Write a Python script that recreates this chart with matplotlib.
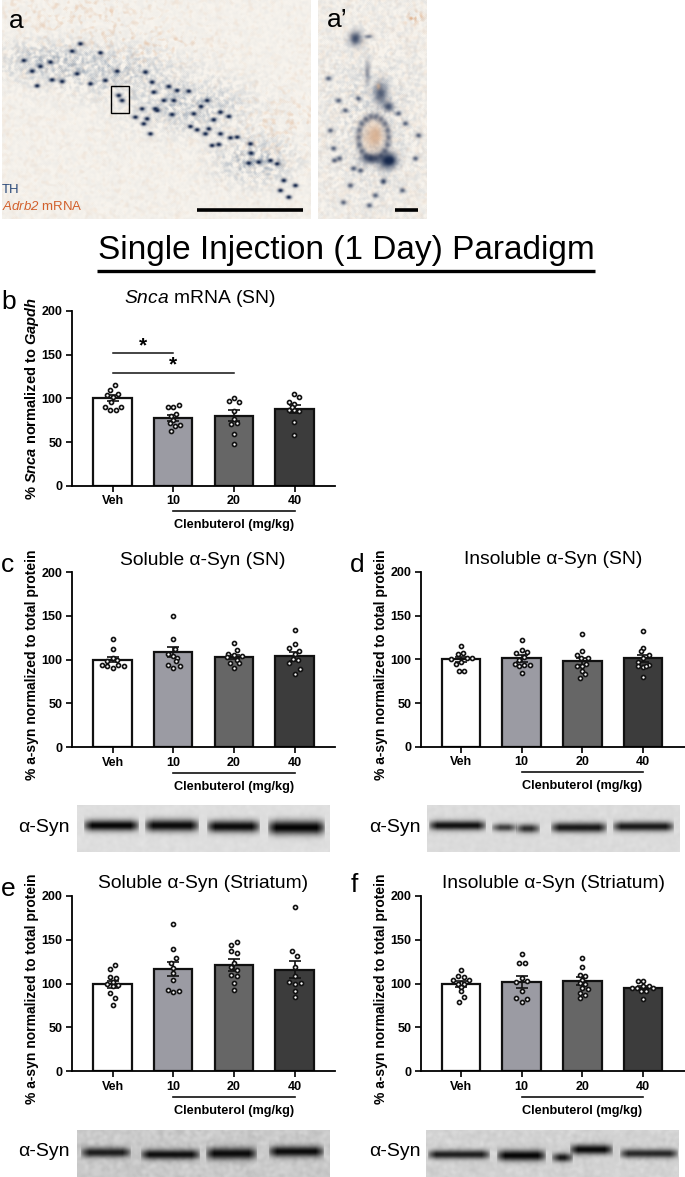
import numpy as np
import matplotlib
matplotlib.use('Agg')
import matplotlib.pyplot as plt
from matplotlib.patches import Rectangle

plt.rcParams['font.family'] = ['Liberation Sans', 'DejaVu Sans']
plt.rcParams['mathtext.fontset'] = 'custom'
plt.rcParams['mathtext.rm'] = 'Liberation Sans'
plt.rcParams['mathtext.it'] = 'Liberation Sans:italic'
plt.rcParams['mathtext.cal'] = 'Liberation Sans:italic'
plt.rcParams['mathtext.bf'] = 'Liberation Sans:bold'
plt.rcParams['mathtext.bfit'] = 'Liberation Sans:italic:bold'
plt.rcParams['mathtext.default'] = 'regular'

W, H = 685, 1177

groups = ['Veh', '10', '20', '40']
bar_colors = ['#ffffff', '#9b9ba3', '#666666', '#3c3c3c']
y_ticks = [0, 50, 100, 150, 200]

# values per group, dx = sideways spread (182 = one group)
b_mean = [100, 78, 80, 88]
b_sem = [3.5, 3.5, 6.5, 4.5]
b_vals = [[115, 110, 105, 104, 101, 96, 90, 90, 87, 87],
          [90, 90, 92, 82, 80, 75, 72, 70, 68, 63],
          [97, 100, 96, 86, 76, 71, 72, 59, 48],
          [105, 96, 101, 94, 87, 87, 86, 73, 58, 90]]
b_dx = [[8, -8, 17, -16, 2, -4, -22, 24, -8, 10],
        [-15, 0, 16, 7, -8, 0, -10, 20, 5, -8],
        [-16, 0, 15, 0, 0, -9, 8, 0, 0],
        [-2, -18, 14, -2, -18, -2, 14, -2, -2, -9]]

c_mean = [100, 109, 103, 104]
c_sem = [3.2, 5.5, 2.7, 5]
c_vals = [[123, 112, 102, 99, 100, 94, 93, 93, 94, 90],
          [150, 124, 112, 106, 104, 102, 94, 91, 93, 98],
          [119, 111, 106, 105, 103, 104, 100, 96, 96, 91],
          [134, 118, 113, 110, 107, 101, 100, 96, 89, 84]]
c_dx = [[0, 0, 0, -16, 14, -30, -16, 34, 17, 0],
        [0, 0, 6, -17, 0, 10, -17, 0, 20, 8],
        [0, 8, -17, 0, -22, 24, 10, -12, 16, 0],
        [0, 0, -16, 14, 0, -6, 11, -18, 16, 0]]

d_mean = [100, 101, 98, 101]
d_sem = [2.8, 3.5, 4, 4]
d_vals = [[115, 107, 106, 100, 101, 101, 97, 95, 87, 87],
          [122, 111, 107, 108, 103, 99, 95, 93, 93, 92, 84],
          [129, 109, 105, 102, 101, 95, 92, 92, 87, 83, 79],
          [132, 113, 110, 105, 102, 97, 93, 92, 91, 92, 80]]
d_dx = [[0, 7, -9, -29, 32, 17, 0, -16, -7, 9],
        [0, 0, -16, 16, 6, -7, -21, 24, 7, -9, 0],
        [0, 0, -16, 17, -3, 12, -16, 0, 0, 9, -8],
        [0, 0, -7, 17, 0, -15, 17, -15, 0, 10, 0]]

e_mean = [99, 117, 121, 116]
e_sem = [4, 8, 6.5, 10]
e_vals = [[121, 117, 108, 106, 102, 100, 98, 97, 89, 84, 76],
          [168, 139, 129, 124, 118, 112, 104, 93, 92, 90],
          [148, 144, 137, 135, 123, 119, 116, 110, 109, 101, 93],
          [188, 137, 132, 119, 109, 102, 100, 101, 92, 85]]
e_dx = [[8, -8, -8, 10, 0, -16, 17, 0, -8, 8, 0],
        [0, 0, 8, -8, 0, 0, 0, -17, 18, 0],
        [8, -8, -8, 8, 0, -8, 8, -8, 8, 0, 0],
        [0, -9, 8, 0, 0, -18, 0, 18, 0, 0]]

f_mean = [99, 102, 103, 95]
f_sem = [3.5, 7, 5, 2.5]
f_vals = [[116, 109, 108, 104, 104, 101, 99, 99, 96, 91, 85, 79],
          [134, 123, 123, 106, 103, 102, 92, 84, 82, 79],
          [129, 119, 110, 109, 104, 101, 100, 95, 94, 89, 87, 83],
          [103, 103, 95, 95, 97, 97, 95, 92, 92, 82]]
f_dx = [[0, -9, 9, -23, 24, 0, -9, 9, 0, 0, 9, -7],
        [0, -8, 9, 0, 16, -16, 0, -16, 16, 0],
        [0, 0, -8, 9, 0, -8, 9, 0, 17, -8, 7, -8],
        [-15, 0, -33, -17, 0, 17, 30, -5, 8, 0]]

# blot bands: left, right, darkness, centre y, half height, in px from the blot corner
c_bands = [(6, 62, .97, 20, 5.5), (67, 122, .95, 20, 6), (129, 183, .95, 21, 6), (190, 248, .98, 22, 7)]
d_bands = [(1, 59, .92, 20, 4.8), (64, 90, .7, 22, 4), (88, 113, .78, 23, 4.5), (123, 180, .88, 22, 5),
           (185, 247, .88, 21, 4.8)]
e_bands = [(3, 54, .85, 22, 5), (63, 123, .92, 24, 5), (128, 180, .94, 23, 6), (191, 247, .94, 21, 5.5)]
f_bands = [(1, 64, .85, 24, 4.5), (70, 120, .97, 25, 5.5), (125, 147, .88, 27, 4.5), (143, 187, .95, 19, 5),
           (193, 252, .8, 23, 4.5)]

# TH cells in panel a, image px * 3
cells_x = [70, 95, 110, 120, 150, 155, 185, 215, 240, 230, 270, 300, 315, 350, 355, 365, 405, 425, 435, 440, 430,
           455, 460, 465, 470, 505, 520, 515, 530, 565, 580, 570, 590, 602, 620, 625, 615, 640, 660, 685, 660, 635,
           655, 690, 710, 750, 752, 745, 775, 810, 830, 850, 885, 840, 865, 450, 490]
cells_y = [180, 212, 256, 198, 185, 238, 243, 152, 130, 220, 250, 157, 240, 212, 285, 300, 350, 325, 215, 355, 370,
           245, 275, 325, 330, 258, 300, 342, 270, 272, 340, 378, 388, 318, 300, 385, 400, 358, 335, 348, 400, 435,
           432, 412, 410, 430, 458, 488, 485, 480, 490, 540, 555, 570, 590, 400, 300]

# soma and process of the neuron in a' (x, y, sx, sy, strength)
neuron = [(355, 38, 6, 7, .8), (368, 36, 4, 2, .5), (367, 72, 3, 12, .4), (380, 93, 7, 11, .7), (388, 106, 5, 5, .75),
          (370, 158, 9, 5, .75), (387, 160, 9, 8, 1.0), (390, 160, 4, 4, 1.0), (383, 181, 3, 3, .8)]
specks_x = [328, 330, 333, 334, 339, 345, 353, 360, 415, 405, 398, 358, 343, 369, 350, 402, 418, 375, 338]
specks_y = [78, 130, 148, 160, 158, 110, 168, 170, 158, 123, 113, 98, 202, 205, 185, 190, 135, 195, 100]


def px_axes(fig, left, right, top, bottom):
    return fig.add_axes([left / W, 1 - bottom / H, (right - left) / W, (bottom - top) / H])


def blobs(xx, yy, items):
    out = np.ones_like(xx)
    for x, y, sx, sy, s in items:
        out = out * (1 - s * np.exp(-((xx - x) / sx) ** 2 - ((yy - y) / sy) ** 2))
    return 1 - out


def grain(xx, yy, size, seed):
    # photo grain from a sine hash, smoothed a few times
    g = np.sin(xx * 12.9898 + yy * 78.233 + seed) * 43758.5453
    g = g - np.floor(g)
    for _ in range(size):
        g = (g + np.roll(g, 1, 0) + np.roll(g, -1, 0) + np.roll(g, 1, 1) + np.roll(g, -1, 1)) / 5
    return (g - g.min()) / (g.max() - g.min())


def micro(ax_, left, right, top, bottom, items, tint, warm, base=.06):
    yy, xx = np.mgrid[top:bottom, left:right].astype(float)
    img = np.ones(xx.shape + (3,)) * np.array([.97, .955, .93])
    n1 = grain(xx, yy, 3, 1.0)
    n2 = grain(xx, yy, 4, 7.0)
    a = (blobs(xx, yy, tint) + base) * np.clip((n1 - .3) * 2.6, 0, 1.3)
    a = np.clip(a, 0, 1)[..., None]
    img = img * (1 - a) + np.array([.55, .61, .68]) * a
    w = (blobs(xx, yy, warm) + .1) * np.clip((n2 - .45) * 3.5, 0, 1.3)
    w = np.clip(w, 0, 1)[..., None]
    img = img * (1 - w) + np.array([.87, .68, .53]) * w
    c = blobs(xx, yy, items)[..., None]
    img = img * (1 - c) + np.array([.09, .16, .3]) * c
    ax_.imshow(np.clip(img, 0, 1), extent=[left, right, bottom, top], aspect='auto', zorder=1, interpolation='bilinear')


def blot(ax_, left, top, width, height, bands, bg, mottle):
    yy, xx = np.mgrid[0:height, 0:width].astype(float)
    img = bg + mottle * (grain(xx, yy, 6, left + top) - .5)
    for x0, x1, dark, yc, hh in bands:
        along = np.clip((xx - x0) / 9, 0, 1) * np.clip((x1 - xx) / 9, 0, 1)
        img = img * (1 - dark * np.sqrt(along) * np.exp(-((yy - yc) / hh) ** 2))
    ax_.imshow(img, cmap='gray', vmin=0, vmax=1, extent=[left, left + width, top + height, top], aspect='auto',
               zorder=1, interpolation='bilinear')


def panel(fig, left, right, top, bottom, x_first, step, mean, sem, vals, dx, title, ylabel, title_x, label_shift,
          label_size=10):
    ax = px_axes(fig, left, right, top, bottom)
    ax.patch.set_alpha(0)
    x = np.arange(4)
    ax.bar(x, mean, width=.635, color=bar_colors, edgecolor='#111111', linewidth=1.6, zorder=2)
    for i in x:
        ax.errorbar(i, mean[i], yerr=sem[i], color='#111111', elinewidth=1.2, capsize=4.5, capthick=1.2, zorder=3)
        ax.plot(i + np.array(dx[i]) / 182, vals[i], 'o', mfc='white', mec='#111111', mew=1.2, ms=2.9, zorder=4,
                clip_on=False)
    ax.set_xlim((left - x_first) / step, (right - x_first) / step)
    ax.set_ylim(0, 200)
    ax.set_xticks(x)
    ax.set_xticklabels(groups, fontsize=9, fontweight='bold')
    ax.set_yticks(y_ticks)
    ax.tick_params(axis='y', labelsize=9, width=1.2, length=4, pad=3)
    ax.tick_params(axis='x', width=1.2, length=4, pad=3)
    for t in ax.get_yticklabels():
        t.set_fontweight('bold')
    for s in ['top', 'right']:
        ax.spines[s].set_visible(False)
    for s in ['left', 'bottom']:
        ax.spines[s].set_linewidth(1.3)
    ax.plot([1, 3], [-29.5, -29.5], color='#111111', lw=1.2, clip_on=False)
    ax.text(2, -45.5, 'Clenbuterol (mg/kg)', ha='center', va='center', fontsize=9.2, fontweight='bold')
    ax.text((title_x - left) / (right - left), 1.0 + 12 / (bottom - top), title, transform=ax.transAxes,
            ha='center', va='center', fontsize=13.9)
    ax.text(-40 / (right - left), 0.5 - label_shift / (bottom - top), ylabel, transform=ax.transAxes, rotation=90,
            ha='center', va='center', fontsize=label_size, fontweight='bold', clip_on=False)
    return ax


fig = plt.figure(figsize=(W / 100, H / 100), dpi=100, facecolor='white')

bg = fig.add_axes([0, 0, 1, 1])
bg.set_xlim(0, W)
bg.set_ylim(H, 0)
bg.axis('off')

cells = [(x / 3, y / 3, 2.8, 2.1, 1.0) for x, y in zip(cells_x, cells_y)]
band = [(40, 60, 50, 18, .4), (110, 70, 60, 22, .45), (190, 105, 55, 25, .45), (255, 160, 35, 22, .55)]
warm = [(80, 15, 70, 25, .3), (160, 45, 50, 15, .3), (280, 120, 40, 30, .25)]
micro(bg, 2, 311, 0, 219, cells, band, warm)

specks = [(x, y, 3, 2.5, .65) for x, y in zip(specks_x, specks_y)]
# soma outline as a ring of soft spots
angles = np.radians(np.arange(0, 360, 20))
ring = [(373 + 15 * np.cos(t), 137 + 21 * np.sin(t), 3.2, 3.6, .55) for t in angles]
micro(bg, 318, 427, 0, 219, neuron + ring + specks, [(370, 120, 40, 70, .2)], [(415, 18, 9, 6, .8)], base=.12)
# tan stain sits on top of the soma
yy2, xx2 = np.mgrid[0:219, 318:427].astype(float)
w2 = blobs(xx2, yy2, [(373, 136, 10, 14, .7), (376, 134, 4, 7, .45), (378, 86, 2, 3, .6)])
bg.imshow(np.dstack([np.full(xx2.shape, .84), np.full(xx2.shape, .66), np.full(xx2.shape, .52), w2]),
          extent=[318, 427, 219, 0], aspect='auto', zorder=2)

bg.set_xlim(0, W)
bg.set_ylim(H, 0)
bg.add_patch(Rectangle((111.5, 86), 17.5, 26.5, fill=False, ec='black', lw=1, zorder=3))
bg.plot([197, 303], [209.5, 209.5], color='black', lw=2.6, solid_capstyle='butt', zorder=3)
bg.plot([395, 418], [210, 210], color='black', lw=2.6, solid_capstyle='butt', zorder=3)
bg.text(9, 21, 'a', fontsize=19, ha='left', va='center', zorder=3)
bg.text(327, 20, 'a’', fontsize=19, ha='left', va='center', zorder=3)
bg.text(2, 190, 'TH', fontsize=9.5, color='#2b4a7a', ha='left', va='center', zorder=3)
bg.text(2, 207, r'$\mathcal{Adrb2}$ mRNA', fontsize=9.5, color='#d2602c', ha='left', va='center', zorder=3)

bg.text(346, 250, 'Single Injection (1 Day) Paradigm', fontsize=24, ha='center', va='center', zorder=3)
bg.plot([97, 595], [271, 271], color='black', lw=2.4, solid_capstyle='butt', zorder=3)

for letter, lx, ly in [('b', 1, 302), ('c', 1, 565), ('d', 350, 565), ('e', 1, 889), ('f', 351, 885)]:
    bg.text(lx, ly, letter, fontsize=19, ha='left', va='center', zorder=3)

blot(bg, 77, 805, 253, 47, c_bands, .87, .04)
blot(bg, 427, 805, 253, 47, d_bands, .86, .04)
blot(bg, 77, 1130, 253, 47, e_bands, .79, .1)
blot(bg, 426, 1130, 253, 47, f_bands, .82, .08)
bg.set_xlim(0, W)
bg.set_ylim(H, 0)
for sx, sy in [(18, 828), (369, 828), (18, 1152), (369, 1152)]:
    bg.text(sx, sy, 'α-Syn', fontsize=14, ha='left', va='center', zorder=3)

ylab = '% a-syn normalized to total protein'
ylab_b = r'% $\mathbfit{Snca}$ normalized to $\mathbfit{Gapdh}$'
ax_b = panel(fig, 72, 335, 311, 485.7, 112.5, 60.7, b_mean, b_sem, b_vals, b_dx, r'$\mathit{Snca}$ mRNA (SN)', ylab_b, 200, 0, 10.5)
panel(fig, 72, 335, 572, 747.3, 112.5, 60.7, c_mean, c_sem, c_vals, c_dx, 'Soluble α-Syn (SN)', ylab, 203, 5)
panel(fig, 421, 685, 572, 746.7, 461, 60.7, d_mean, d_sem, d_vals, d_dx, 'Insoluble α-Syn (SN)', ylab, 553, 5)
panel(fig, 72, 335, 896, 1071, 112.5, 60.7, e_mean, e_sem, e_vals, e_dx, 'Soluble α-Syn (Striatum)', ylab, 203, 5)
panel(fig, 421, 685, 896, 1071, 461, 60.7, f_mean, f_sem, f_vals, f_dx, 'Insoluble α-Syn (Striatum)', ylab, 553, 5)

# significance bars on the Snca panel
ax_b.plot([0, 1], [151.5, 151.5], color='#111111', lw=1.1)
ax_b.plot([0, 2], [128.6, 128.6], color='#111111', lw=1.1)
ax_b.text(.5, 160, '*', ha='center', va='center', fontsize=15, fontweight='bold')
ax_b.text(1, 138, '*', ha='center', va='center', fontsize=15, fontweight='bold')

fig.savefig('out.png', dpi=100)
